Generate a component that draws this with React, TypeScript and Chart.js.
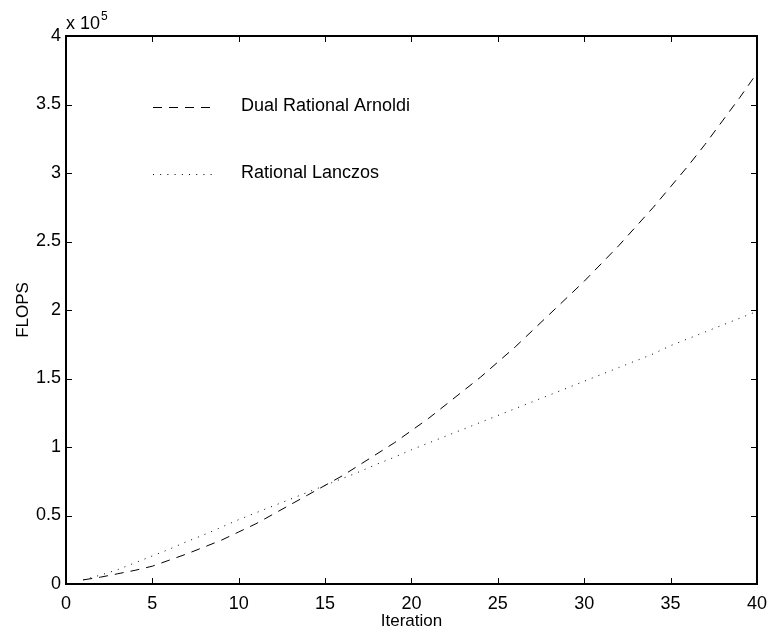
import React, { useEffect, useRef } from "react";
import { Chart, registerables } from "chart.js";

Chart.register(...registerables);

const iterations = [
  1, 2, 3, 4, 5, 6, 7, 8, 9, 10, 11, 12, 13, 14, 15, 16, 17, 18, 19, 20,
  21, 22, 23, 24, 25, 26, 27, 28, 29, 30, 31, 32, 33, 34, 35, 36, 37, 38, 39, 40,
];

// FLOPS values (in units of 1e5)
const dualRationalArnoldi = [
  0.03, 0.05, 0.075, 0.1, 0.13, 0.175, 0.22, 0.27, 0.32, 0.38,
  0.44, 0.51, 0.58, 0.65, 0.72, 0.79, 0.87, 0.95, 1.03, 1.12,
  1.21, 1.31, 1.41, 1.51, 1.62, 1.73, 1.85, 1.97, 2.09, 2.21,
  2.34, 2.47, 2.61, 2.75, 2.9, 3.05, 3.21, 3.38, 3.55, 3.73,
];
const rationalLanczos = [
  0.03, 0.065, 0.105, 0.155, 0.205, 0.255, 0.31, 0.36, 0.415, 0.47,
  0.52, 0.57, 0.62, 0.67, 0.72, 0.77, 0.82, 0.875, 0.925, 0.98,
  1.03, 1.08, 1.13, 1.18, 1.23, 1.28, 1.33, 1.38, 1.43, 1.48,
  1.53, 1.58, 1.63, 1.68, 1.74, 1.79, 1.84, 1.89, 1.94, 1.99,
];

const SCALE = 1e5;
const xTicks = [0, 5, 10, 15, 20, 25, 30, 35, 40];
const yTicks = [0, 0.5, 1, 1.5, 2, 2.5, 3, 3.5, 4];
const seriesLabels = ["Dual Rational Arnoldi", "Rational Lanczos"];
const xTitle = "Iteration";
const yTitle = "FLOPS";
const exponentBase = "x 10";
const exponentPower = "5";

const FONT = "'Liberation Sans', Arial, Helvetica, sans-serif";
const DASH = [9, 7];
const DOT = [1, 6.2];

const frame = {
  id: "matlabFrame",
  afterDraw(chart: any) {
    const { ctx, chartArea, scales } = chart;
    const { left, right, top, bottom } = chartArea;
    const xs = scales.x;
    const ys = scales.y;
    ctx.save();
    ctx.strokeStyle = "#000";
    ctx.setLineDash([]);
    ctx.lineWidth = 2;
    ctx.strokeRect(left, top, right - left, bottom - top);
    ctx.lineWidth = 1;
    const tl = 6;
    ctx.beginPath();
    xTicks.forEach((v) => {
      const px = Math.round(xs.getPixelForValue(v)) + 0.5;
      ctx.moveTo(px, bottom);
      ctx.lineTo(px, bottom - tl);
      ctx.moveTo(px, top);
      ctx.lineTo(px, top + tl);
    });
    yTicks.forEach((v) => {
      const py = Math.round(ys.getPixelForValue(v * SCALE)) + 0.5;
      ctx.moveTo(left, py);
      ctx.lineTo(left + tl, py);
      ctx.moveTo(right, py);
      ctx.lineTo(right - tl, py);
    });
    ctx.stroke();

    // exponent label
    ctx.fillStyle = "#000";
    ctx.textBaseline = "alphabetic";
    ctx.textAlign = "left";
    ctx.font = `18px ${FONT}`;
    ctx.fillText(exponentBase, left, top - 7);
    const w = ctx.measureText(exponentBase).width;
    ctx.font = `12px ${FONT}`;
    ctx.fillText(exponentPower, left + w + 1, top - 16);

    // legend
    const lx0 = left + 87;
    const lx1 = left + 147;
    const tx = left + 175;
    const rows = [
      { y: top + 70.5, dash: DASH, label: seriesLabels[0] },
      { y: top + 137.5, dash: DOT, label: seriesLabels[1] },
    ];
    ctx.font = `18px ${FONT}`;
    ctx.textBaseline = "middle";
    rows.forEach((r) => {
      ctx.setLineDash(r.dash);
      ctx.beginPath();
      ctx.moveTo(lx0, Math.round(r.y) + 0.5);
      ctx.lineTo(lx1, Math.round(r.y) + 0.5);
      ctx.stroke();
      ctx.setLineDash([]);
      ctx.fillText(r.label, tx, r.y);
    });
    ctx.restore();
  },
};

export default function App() {
  const ref = useRef<HTMLCanvasElement | null>(null);
  useEffect(() => {
    if (!ref.current) return;
    Chart.defaults.color = "#000";
    Chart.defaults.font.family = FONT;
    const chart = new Chart(ref.current, {
      type: "line",
      data: {
        datasets: [
          {
            label: seriesLabels[0],
            data: iterations.map((x, i) => ({ x, y: dualRationalArnoldi[i] * SCALE })),
            borderColor: "#000",
            borderWidth: 1,
            borderDash: DASH,
            pointRadius: 0,
            tension: 0,
            fill: false,
          },
          {
            label: seriesLabels[1],
            data: iterations.map((x, i) => ({ x, y: rationalLanczos[i] * SCALE })),
            borderColor: "#000",
            borderWidth: 1,
            borderDash: DOT,
            pointRadius: 0,
            tension: 0,
            fill: false,
          },
        ],
      },
      options: {
        responsive: false,
        animation: false,
        layout: { padding: { left: 0, right: 14, top: 36, bottom: 0 } },
        plugins: { legend: { display: false }, tooltip: { enabled: false } },
        scales: {
          x: {
            type: "linear",
            min: 0,
            max: 40,
            grid: { display: false, drawTicks: false },
            border: { display: false },
            afterBuildTicks: (s: any) => {
              s.ticks = xTicks.map((v) => ({ value: v }));
            },
            afterFit: (s: any) => {
              s.height = 49;
            },
            ticks: { padding: 9, font: { size: 18 }, maxRotation: 0, autoSkip: false },
            title: { display: true, text: xTitle, font: { size: 17 }, padding: { top: 0, bottom: 1 } },
          },
          y: {
            type: "linear",
            min: 0,
            max: 4 * SCALE,
            grid: { display: false, drawTicks: false },
            border: { display: false },
            afterBuildTicks: (s: any) => {
              s.ticks = yTicks.map((v) => ({ value: v * SCALE }));
            },
            afterFit: (s: any) => {
              s.width = 66;
            },
            ticks: {
              padding: 5,
              font: { size: 18 },
              autoSkip: false,
              callback: (v: any) => String(Number(v) / SCALE),
            },
            title: { display: true, text: yTitle, font: { size: 17 }, padding: { top: 13, bottom: 0 } },
          },
        },
      },
      plugins: [frame],
    });
    return () => chart.destroy();
  }, []);
  return (
    <div style={{ position: "absolute", left: 0, top: 0, width: 776, height: 633, background: "#fff" }}>
      <canvas ref={ref} width={776} height={633} style={{ display: "block" }} />
    </div>
  );
}
